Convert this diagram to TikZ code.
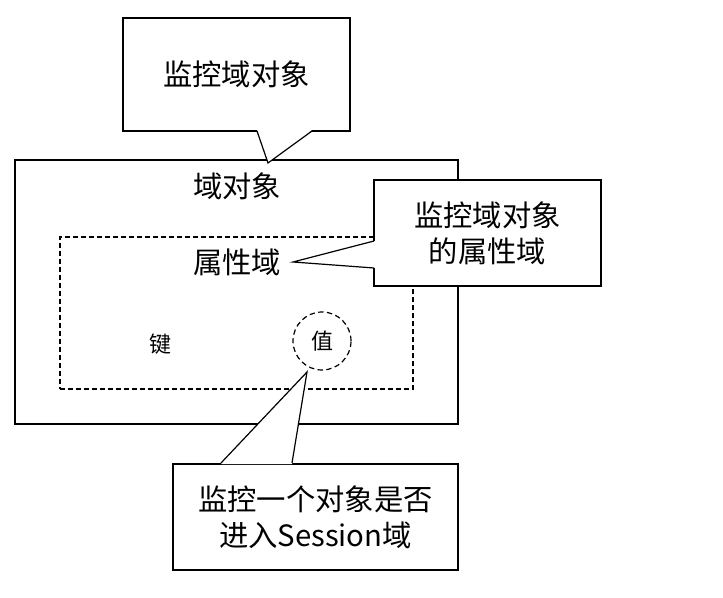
\documentclass[tikz,border=0pt]{standalone}
\usepackage{fontspec}
\setmainfont{Noto Sans CJK SC}
\begin{document}
\begin{tikzpicture}[x=0.75pt, y=-0.75pt, line width=0.9pt,
  box/.style={draw, inner sep=0pt, anchor=center},
  note/.style={box, fill=white, align=center, font=\fontsize{22}{27}\selectfont},
  big/.style={font=\fontsize{22}{27}\selectfont},
  small/.style={font=\fontsize{16.5}{20}\selectfont}]
\useasboundingbox (0,0) rectangle (723,598);
% domain object and its attribute scope
\node[box, minimum width=332.25pt, minimum height=198pt] (domain) at (236.5,292) {};
\node[box, dash pattern=on 3.6pt off 2.4pt, minimum width=264.75pt, minimum height=114pt] (attrs) at (236.5,313) {};
\node[big] (domtitle) at (237,186) {域对象};
\node[big] (attrtitle) at (237,262) {属性域};
\node[small] (key) at (160,344) {键};
\node[box, circle, dash pattern=on 4pt off 2.6pt, minimum size=43.5pt, small] (val) at (322,341) {值};
% callouts
\node[note, minimum width=170.25pt, minimum height=84.75pt] (topnote) at (236.5,74.5) {监控域对象};
\coordinate (toptip) at (268,163);
\fill[white] (257,130) -- (toptip) -- (312,130) -- cycle;
\draw (257,131) -- (toptip) -- (312,131);
\node[note, minimum width=170.25pt, minimum height=79.5pt] (sidenote) at (487.5,233) {监控域对象\\的属性域};
\coordinate (sidetip) at (293,262);
\fill[white] (375,241) -- (sidetip) -- (375,268) -- cycle;
\draw (374,241) -- (sidetip) -- (374,268);
\node[note, minimum width=213.75pt, minimum height=79.5pt] (lownote) at (315.5,517) {监控一个对象是否\\进入Session域};
\coordinate (lowtip) at (307,372);
\fill[white] (221,464) -- (lowtip) -- (292,464) -- cycle;
\draw (221,463) -- (lowtip) -- (292,463);
\end{tikzpicture}
\end{document}
